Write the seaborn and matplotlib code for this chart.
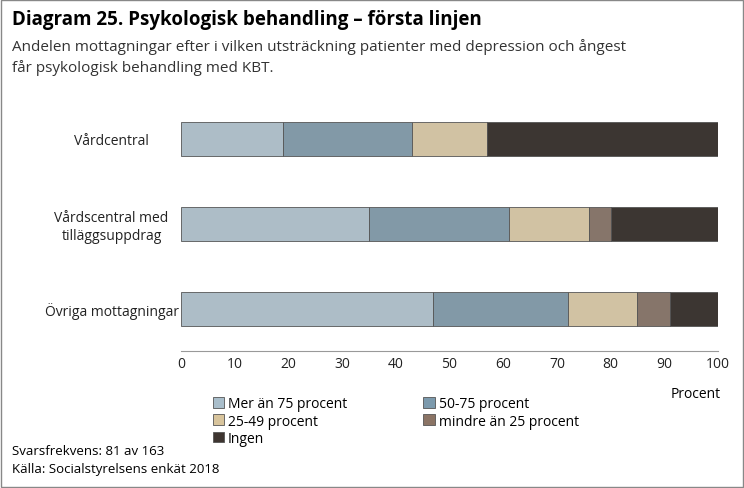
import matplotlib
matplotlib.use("Agg")
import matplotlib.pyplot as plt
import seaborn as sns
import pandas as pd
import numpy as np

categories = ["Vårdcentral", "Vårdscentral med\ntilläggsuppdrag", "Övriga mottagningar"]
series = ["Mer än 75 procent", "50-75 procent", "25-49 procent", "mindre än 25 procent", "Ingen"]
mer75 = [19, 35, 47]
p50_75 = [24, 26, 25]
p25_49 = [14, 15, 13]
mindre25 = [0, 4, 6]
ingen = [43, 20, 9]
colors = ["#A9BECB", "#7C9AAD", "#D8C49C", "#8B7465", "#3E3530"]

plt.rcParams["font.family"] = "Open Sans"
fig = plt.figure(figsize=(7.44, 4.89), dpi=100)
fig.patches.append(plt.Rectangle((0.002, 0.002), 0.996, 0.996, transform=fig.transFigure,
                                 fill=False, ec="#888888", lw=1))
ax = fig.add_axes([181/744, 1-352/489, 537/744, 255/489])

vals = [mer75, p50_75, p25_49, mindre25, ingen]
left = np.zeros(3)
for name, v, c in zip(series, vals, colors):
    df = pd.DataFrame({"cat": categories, "val": v})
    sns.barplot(data=df, y="cat", x="val", color=c, left=left, ax=ax,
                width=0.4, edgecolor="#555555", linewidth=0.6, label=name, orient="h")
    left = left + np.array(v)

ax.set_xlim(0, 100)
ax.set_xticks(range(0, 101, 10))
ax.set_xlabel("")
ax.set_ylabel("")
ax.tick_params(axis="both", length=0, labelsize=10, colors="#222222")
for s in ["top", "right", "left"]:
    ax.spines[s].set_visible(False)
ax.spines["bottom"].set_color("#999999")
ax.set_yticklabels(categories, ha="center")
ax.tick_params(axis="y", pad=50)
if ax.legend_:
    ax.legend_.remove()

handles = [plt.Rectangle((0, 0), 1, 1, fc=c, ec="#555555", lw=0.6) for c in colors]
order = [0, 2, 4, 1, 3]
fig.legend([handles[i] for i in order], [series[i] for i in order], loc="upper left",
           bbox_to_anchor=(200/744, 1-385/489),
           ncol=2, frameon=False, fontsize=10, handlelength=0.8, handleheight=0.8,
           handletextpad=0.3, columnspacing=5.5, labelspacing=0.15)

fig.text(671/744, 1-395/489, "Procent", fontsize=10, va="center")
fig.text(12/744, 1-20/489, "Diagram 25. Psykologisk behandling – första linjen",
         fontsize=13.5, fontweight="bold", va="center")
fig.text(12/744, 1-47/489, "Andelen mottagningar efter i vilken utsträckning patienter med depression och ångest",
         fontsize=11, va="center", color="#333333")
fig.text(12/744, 1-68/489, "får psykologisk behandling med KBT.", fontsize=11, va="center", color="#333333")
fig.text(12/744, 1-452/489, "Svarsfrekvens: 81 av 163", fontsize=9.5, va="center")
fig.text(12/744, 1-470/489, "Källa: Socialstyrelsens enkät 2018", fontsize=9.5, va="center")
fig.savefig("out.png", dpi=100)
